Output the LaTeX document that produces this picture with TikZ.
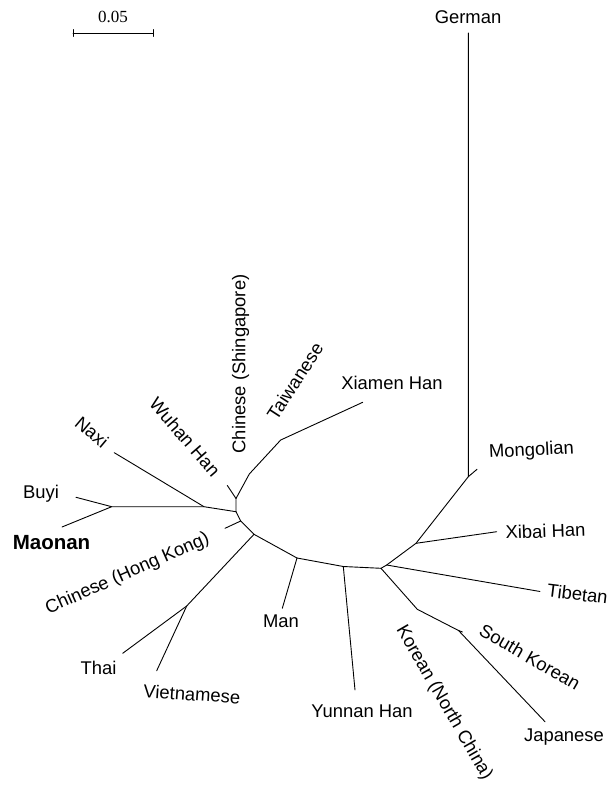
\documentclass[tikz,border=0pt]{standalone}
\usepackage{fontspec}
\setmainfont{Liberation Sans}
\newfontfamily\serifnum{Liberation Serif}
\begin{document}
\begin{tikzpicture}[x=1pt,y=-1pt,
  branch/.style={line width=0.9pt,line cap=round,line join=round},
  lbl/.style={inner sep=0pt,font=\fontsize{18.4}{20}\selectfont},
  boldlbl/.style={inner sep=0pt,font=\fontsize{20.5}{22}\selectfont\bfseries}]
\useasboundingbox (0,0) rectangle (609,787);
% scale bar
\coordinate (sbL) at (73,33);
\coordinate (sbR) at (153,33);
\draw[branch] (sbL) -- (sbR);
\draw[branch] ([yshift=-3.5pt]sbL) -- ([yshift=3.5pt]sbL);
\draw[branch] ([yshift=-3.5pt]sbR) -- ([yshift=3.5pt]sbR);
\node[inner sep=0pt,font=\serifnum\fontsize{17}{19}\selectfont] (sbt) at (113,17) {0.05};
% internal nodes
\coordinate (C) at (236,511.7);
\coordinate (N1) at (204,506.7);
\coordinate (BM) at (111.7,506.7);
\coordinate (W) at (236,498.5);
\coordinate (CS) at (249.3,474);
\coordinate (TW) at (280.7,440);
\coordinate (HK) at (240.7,521);
\coordinate (TV) at (254,534.3);
\coordinate (TVj) at (186.7,606);
\coordinate (MN) at (297,558);
\coordinate (YN) at (343.3,566.5);
\coordinate (K) at (381,568.3);
\coordinate (T) at (386.7,565);
\coordinate (XB) at (416,543.3);
\coordinate (KNC) at (417.3,609.3);
\coordinate (SK) at (458.5,630.5);
% tips
\coordinate (tBuyi) at (76,497.3);
\coordinate (tMaonan) at (62,527);
\coordinate (tNaxi) at (114.3,452.7);
\coordinate (tWuhan) at (227.3,485.5);
\coordinate (tXiamen) at (362.7,402.3);
\coordinate (tHK) at (225,528.3);
\coordinate (tThai) at (122.7,653.3);
\coordinate (tViet) at (156.7,670.7);
\coordinate (tMan) at (282.3,608.3);
\coordinate (tYun) at (355,690);
\coordinate (tTib) at (540,591.5);
\coordinate (tXibai) at (496.7,531.7);
\coordinate (tMong) at (477,469.3);
\coordinate (GM) at (468.3,476.7);
\coordinate (tGerman) at (468.3,33);
\coordinate (tJap) at (545,721.7);
\coordinate (tSK) at (462.5,632);
% branches
\draw[branch] (tBuyi) -- (BM) -- (tMaonan);
\draw[branch] (BM) -- (N1) -- (C);
\draw[branch] (tNaxi) -- (N1);
\draw[branch] (C) -- (W) -- (tWuhan);
\draw[branch] (W) -- (CS) -- (TW) -- (tXiamen);
\draw[branch] (C) -- (HK) -- (TV) -- (MN) -- (YN) -- (K);
\draw[branch] (HK) -- (tHK);
\draw[branch] (TV) -- (TVj) -- (tThai);
\draw[branch] (TVj) -- (tViet);
\draw[branch] (MN) -- (tMan);
\draw[branch] (YN) -- (tYun);
\draw[branch] (K) -- (T) -- (XB) -- (GM) -- (tGerman);
\draw[branch] (GM) -- (tMong);
\draw[branch] (XB) -- (tXibai);
\draw[branch] (T) -- (tTib);
\draw[branch] (K) -- (KNC) -- (SK) -- (tJap);
\draw[branch] (SK) -- (tSK);
% labels
\node[lbl] (German) at (468,17) {German};
\node[lbl,rotate=3] (Mongolian) at (531.5,451) {Mongolian};
\node[lbl,rotate=2] (Xibai) at (545.5,531) {Xibai Han};
\node[lbl,rotate=-7] (Tibetan) at (577.5,594) {Tibetan};
\node[lbl,rotate=-30] (SouthKorean) at (530,657) {South Korean};
\node[lbl] (Japanese) at (564,737) {Japanese};
\node[lbl,rotate=-60] (KoreanNC) at (444,703) {Korean (North China)};
\node[lbl] (Yunnan) at (362,711) {Yunnan Han};
\node[lbl] (Man) at (281,621) {Man};
\node[lbl,rotate=-4] (Vietnamese) at (192,694) {Vietnamese};
\node[lbl] (Thai) at (98.5,668) {Thai};
\node[lbl,rotate=24] (HongKong) at (127.5,574) {Chinese (Hong Kong)};
\node[boldlbl] (Maonan) at (51.5,543) {Maonan};
\node[lbl] (Buyi) at (41,494) {Buyi};
\node[lbl,rotate=-40] (Naxi) at (92,432) {Naxi};
\node[lbl,rotate=-49] (Wuhan) at (185,437) {Wuhan Han};
\node[lbl,rotate=90] (Singapore) at (240.5,364) {Chinese (Shingapore)};
\node[lbl,rotate=57] (Taiwanese) at (295,381) {Taiwanese};
\node[lbl] (Xiamen) at (392,383) {Xiamen Han};
\end{tikzpicture}
\end{document}
